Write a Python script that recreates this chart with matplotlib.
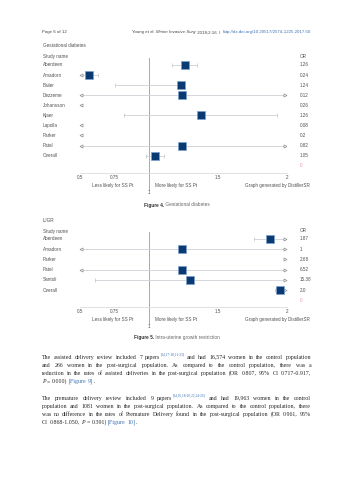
import numpy as np
import matplotlib
matplotlib.use("Agg")
import matplotlib.pyplot as plt
from matplotlib.transforms import blended_transform_factory

nan = np.nan

# ---------------- data ----------------
gd_title = "Gestational diabetes"
gd_studies = ["Aberdeen", "Amadorn", "Bailer", "Dezzeme", "Johansson", "Kjaer",
              "Lapolla", "Parker", "Patel", "Overall"]
gd_or_labels = ["1.26", "0.24", "1.24", "0.12", "0.26", "1.26", "0.08", "0.2", "0.82", "1.05"]
gd_point = [1.26, 0.565, 1.23, 1.24, nan, 1.38, nan, nan, 1.24, 1.04]
gd_low = [1.17, 0.40, 0.75, 0.40, 0.30, 0.82, 0.30, 0.30, 0.40, 0.98]
gd_high = [1.35, 0.63, 1.23, 2.50, 0.40, 1.93, 0.40, 0.40, 2.50, 1.11]

iugr_title = "IUGR"
iugr_studies = ["Aberdeen", "Amadorn", "Parker", "Patel", "Santoli", "Overall"]
iugr_or_labels = ["1.87", "1", "2.68", "6.52", "15.38", "2.0"]
iugr_point = [1.88, 1.24, nan, 1.24, 1.30, 1.95]
iugr_low = [1.76, 0.40, 2.30, 0.40, 0.61, 1.91]
iugr_high = [2.50, 2.50, 3.00, 2.50, 2.50, 2.50]

x_ticks = [0.5, 0.75, 1.5, 2]
x_tick_labels = ["0.5", "0.75", "1.5", "2"]

# ---------------- figure ----------------
W, H = 353, 480
fig = plt.figure(figsize=(W / 100, H / 100), dpi=100)
fig.patch.set_facecolor("white")
renderer = fig.canvas.get_renderer()

CH = dict(family="Liberation Sans", size=3.3, color="#505050")
SQ_FACE = "#0b3a73"
SQ_EDGE = "#7aa3cf"
CI_COL = "#cdd2d8"
ARR_COL = "#8a8a8a"


def fxy(x, y):
    return x / W, 1 - y / H


def width_of(t):
    return t.get_window_extent(renderer=renderer).width


def runs(x, y, items, ha="left", va="baseline"):
    """Place a sequence of (text, kwargs) runs starting at pixel x."""
    objs = []
    cx = x
    for txt, kw in items:
        t = fig.text(*fxy(cx, y), txt, ha="left", va=va, **kw)
        cx += width_of(t)
        objs.append(t)
    total = cx - x
    if ha in ("center", "right"):
        shift = total / 2 if ha == "center" else total
        for t in objs:
            px, py = t.get_position()
            t.set_position((px - shift / W, py))
    return total


def forest(study_px, axis_px, row0, step, title, title_px, studies, labels,
           pt, lo, hi, overall_size):
    ax = fig.add_axes([80 / W, 1 - axis_px / H, (287 - 80) / W, (axis_px - study_px) / H])
    ax.set_xlim(0.5, 2)
    ax.set_ylim(axis_px, study_px)
    ax.patch.set_alpha(0)
    for s in ("top", "left", "right"):
        ax.spines[s].set_visible(False)
    ax.spines["bottom"].set_color("#dcdcdc")
    ax.spines["bottom"].set_linewidth(0.6)
    ax.set_yticks([])
    ax.set_xticks(x_ticks)
    ax.set_xticklabels(x_tick_labels, **CH)
    ax.tick_params(axis="x", length=0, pad=1.6)

    tr = blended_transform_factory(fig.transFigure, ax.transData)
    ax.text(43 / W, title_px, title, transform=tr, va="center", ha="left",
            clip_on=False, **CH)
    ax.text(43 / W, study_px, "Study name", transform=tr, va="center", ha="left",
            clip_on=False, **CH)
    ax.text(300 / W, study_px, "OR", transform=tr, va="center", ha="left",
            clip_on=False, **CH)

    ax.plot([1, 1], [study_px + 1, axis_px + 17], color="#9eabb8", lw=0.7,
            clip_on=False, zorder=1)

    n = len(studies)
    for i in range(n):
        y = row0 + i * step
        ax.text(43 / W, y, studies[i], transform=tr, va="center", ha="left",
                clip_on=False, **CH)
        ax.text(300 / W, y, labels[i], transform=tr, va="center", ha="left",
                clip_on=False, **CH)
        l, h, p = lo[i], hi[i], pt[i]
        if h < 0.5:
            ax.plot([0.507], [y], marker="<", ms=2.2, mfc="white", mec=ARR_COL,
                    mew=0.5, clip_on=False, zorder=3)
            continue
        if l > 2:
            ax.plot([1.985], [y], marker=">", ms=2.2, mfc="white", mec=ARR_COL,
                    mew=0.5, clip_on=False, zorder=3)
            continue
        a = max(l, 0.507)
        b = min(h, 1.985)
        ax.plot([a, b], [y, y], color=CI_COL, lw=0.6, zorder=2, clip_on=False)
        if l < 0.5:
            ax.plot([0.507], [y], marker="<", ms=2.2, mfc="white", mec=ARR_COL,
                    mew=0.5, clip_on=False, zorder=3)
        else:
            ax.plot([l], [y], marker="|", ms=2.8, color="#c0c5cc", mew=0.5,
                    clip_on=False, zorder=2)
        if h > 2:
            ax.plot([1.985], [y], marker=">", ms=2.2, mfc="white", mec=ARR_COL,
                    mew=0.5, clip_on=False, zorder=3)
        else:
            ax.plot([h], [y], marker="|", ms=2.8, color="#c0c5cc", mew=0.5,
                    clip_on=False, zorder=2)
        if np.isfinite(p):
            ms = overall_size if i == n - 1 else 5.4
            ax.plot([p], [y], marker="s", ms=ms, mfc=SQ_FACE, mec=SQ_EDGE,
                    mew=0.5, clip_on=False, zorder=4)

    ax.text(300 / W, row0 + n * step, "0", transform=tr, va="center", ha="left",
            clip_on=False, family="Liberation Sans", size=3.3, color="#e39aa6")
    ax.text(1, axis_px + 19, "1", va="center", ha="center", clip_on=False, **CH)
    ax.text(133 / W, axis_px + 13, "Less likely for SS Pt", transform=tr,
            va="center", ha="right", clip_on=False, **CH)
    ax.text(155 / W, axis_px + 13, "More likely for SS Pt", transform=tr,
            va="center", ha="left", clip_on=False, **CH)
    ax.text(310 / W, axis_px + 13, "Graph generated by DistillerSR", transform=tr,
            va="center", ha="right", clip_on=False, **CH)
    return ax


forest(57, 173, 65, 10.07, gd_title, 46, gd_studies, gd_or_labels,
       gd_point, gd_low, gd_high, 5.4)
forest(231, 307, 239, 10.2, iugr_title, 220.7, iugr_studies, iugr_or_labels,
       iugr_point, iugr_low, iugr_high, 6.0)

# ---------------- captions ----------------
CAP_B = dict(family="Liberation Sans", size=3.4, color="#333333", weight="bold")
CAP_N = dict(family="Liberation Sans", size=3.4, color="#666666")
runs(177, 206.5, [("Figure 4.", CAP_B), (" Gestational diabetes", CAP_N)], ha="center")
runs(177, 339.5, [("Figure 5.", CAP_B), (" Intra-uterine growth restriction", CAP_N)],
     ha="center")

# ---------------- header ----------------
HD = dict(family="Liberation Sans", size=3.2, color="#444444")
HDI = dict(family="Liberation Sans", size=3.2, color="#444444", style="italic")
HDL = dict(family="Liberation Sans", size=3.2, color="#3b6fb6")
runs(42, 33.5, [("Page 6 of 12", HD)])
runs(311, 33.5, [("Young et al. ", HD), ("Minim Invasive Surg", HDI),
                 (" 2018;2:16  I  ", HD),
                 ("http://dx.doi.org/10.20517/2574-1225.2017.50", HDL)], ha="right")

# ---------------- body text ----------------
BS = 4.2
STY = {
    "n": dict(family="Liberation Serif", size=BS, color="#262626"),
    "i": dict(family="Liberation Serif", size=BS, color="#262626", style="italic"),
    "l": dict(family="Liberation Serif", size=BS, color="#3b6fb6"),
    "s": dict(family="Liberation Serif", size=BS * 0.6, color="#3b6fb6"),
}

para1 = [
    [("The assisted delivery review included 7 papers", "n"), ("[14,17-18,21-23]", "s"),
     (" and had 16,574 women in the control population", "n")],
    [("and 266 women in the post-surgical population. As compared to the control population, there was a", "n")],
    [("reduction in the rates of assisted deliveries in the post-surgical population (OR 0.807, 95% CI 0.717-0.917,", "n")],
    [("P", "i"), (" = 0.000) ", "n"), ("[Figure 9]", "l"), (".", "n")],
]
para2 = [
    [("The premature delivery review included 9 papers", "n"), ("[14,16,18-20,22,24-26]", "s"),
     (" and had 19,963 women in the control", "n")],
    [("population and 1081 women in the post-surgical population. As compared to the control population, there", "n")],
    [("was no difference in the rates of Premature Delivery found in the post-surgical population (OR 0.961, 95%", "n")],
    [("CI 0.868-1.050, ", "n"), ("P", "i"), (" = 0.391) ", "n"), ("[Figure 10]", "l"), (".", "n")],
]

t_a = fig.text(0, 0, "a a", **STY["n"])
t_b = fig.text(0, 0, "aa", **STY["n"])
space_w = width_of(t_a) - width_of(t_b)
t_a.remove()
t_b.remove()

X0, X1 = 42, 311


def line_words(line):
    words = [[]]
    for text, st in line:
        parts = text.split(" ")
        for j, p in enumerate(parts):
            if j > 0:
                words.append([])
            if p:
                words[-1].append((p, st))
    return [w for w in words if w]


def draw_line(line, y, justify):
    words = line_words(line)
    placed = []
    widths = []
    for w in words:
        objs = []
        total = 0
        for txt, st in w:
            dy = -2.2 if st == "s" else 0
            t = fig.text(0, 0, txt, ha="left", va="baseline", **STY[st])
            objs.append((t, total, dy))
            total += width_of(t)
        placed.append(objs)
        widths.append(total)
    if justify and len(words) > 1:
        gap = (X1 - X0 - sum(widths)) / (len(words) - 1)
    else:
        gap = space_w
    x = X0
    for objs, wdt in zip(placed, widths):
        for t, off, dy in objs:
            t.set_position(fxy(x + off, y + dy))
        x += wdt + gap


def draw_para(lines, y0, step):
    for k, ln in enumerate(lines):
        draw_line(ln, y0 + k * step, justify=(k < len(lines) - 1))


draw_para(para1, 358.6, 8.1)
draw_para(para2, 399.6, 8.0)

fig.savefig("out.png", dpi=100, facecolor="white")
